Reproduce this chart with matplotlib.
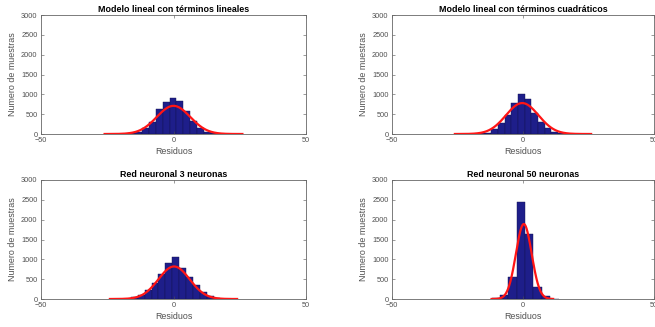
import numpy as np
import matplotlib
matplotlib.use("Agg")
import matplotlib.pyplot as plt

plt.rcParams['font.family'] = ['Liberation Sans', 'DejaVu Sans']

titles = ["Modelo lineal con términos lineales",
          "Modelo lineal con términos cuadráticos",
          "Red neuronal 3 neuronas",
          "Red neuronal 50 neuronas"]

# bin centers, bin widths and counts for each histogram
p1_centers = [-18.4, -15.8, -13.2, -10.6, -8.0, -5.4, -2.8, -0.2, 2.4, 5.0, 7.6, 10.2, 12.8, 15.4, 18.0]
p1_counts = [8, 20, 55, 140, 300, 620, 800, 900, 830, 580, 320, 150, 60, 20, 8]
p1_width = 2.6

p2_centers = [-18.45, -15.9, -13.35, -10.8, -8.25, -5.7, -3.15, -0.6, 1.95, 4.5, 7.05, 9.6, 12.15, 14.7, 17.25]
p2_counts = [5, 15, 35, 120, 270, 480, 780, 1005, 890, 520, 300, 140, 45, 15, 5]
p2_width = 2.55

p3_centers = [-17.4, -14.8, -12.2, -9.6, -7.0, -4.4, -1.8, 0.8, 3.4, 6.0, 8.6, 11.2, 13.8, 16.4]
p3_counts = [10, 40, 110, 230, 400, 640, 915, 1070, 790, 560, 350, 180, 70, 20]
p3_width = 2.6

p4_centers = [-10.4, -7.2, -4.0, -0.8, 2.4, 5.6, 8.8, 12.0]
p4_counts = [15, 110, 550, 2440, 1650, 310, 70, 10]
p4_width = 3.2

# fitted normal curves: peak height, mean, sigma, plotted range
fit_peak = [710, 780, 820, 1890]
fit_mu = [0.0, -0.3, 0.2, 0.3]
fit_sigma = [6.3, 6.2, 5.9, 3.0]
fit_range = [(-26, 26), (-26, 26), (-24, 24), (-12, 11.5)]

x_ticks = [-50, 0, 50]
y_ticks = [0, 500, 1000, 1500, 2000, 2500, 3000]

panels = [(p1_centers, p1_counts, p1_width),
          (p2_centers, p2_counts, p2_width),
          (p3_centers, p3_counts, p3_width),
          (p4_centers, p4_counts, p4_width)]

W, H = 655, 327
fig = plt.figure(figsize=(W / 100, H / 100), dpi=100)

positions = [(41, 15), (392, 15), (41, 180), (392, 180)]
widths = [265, 262, 265, 262]
ax_h = 119

for i, ((cx, cnt, w), (px, py)) in enumerate(zip(panels, positions)):
    ax = fig.add_axes([px / W, 1 - (py + ax_h) / H, widths[i] / W, ax_h / H])
    ax.bar(cx, cnt, width=w, color='#1e1e8a', edgecolor='#121250', linewidth=0.3)
    xs = np.linspace(fit_range[i][0], fit_range[i][1], 300)
    ys = fit_peak[i] * np.exp(-(xs - fit_mu[i]) ** 2 / (2 * fit_sigma[i] ** 2))
    ax.plot(xs, ys, color='#ff1515', linewidth=1.6)
    ax.set_xlim(-50, 50)
    ax.set_ylim(0, 3000)
    ax.set_xticks(x_ticks)
    ax.set_yticks(y_ticks)
    ax.tick_params(direction='in', length=2, width=0.4, labelsize=5.3,
                   top=True, right=True, colors='#505050', pad=2.5)
    for s in ax.spines.values():
        s.set_linewidth(0.6)
        s.set_color('#666666')
    ax.set_title(titles[i], fontsize=6.4, fontweight='bold', pad=2.5)
    ax.set_xlabel("Residuos", fontsize=6.4, color='#505050', labelpad=2)
    ax.set_ylabel("Numero de muestras", fontsize=6.4, color='#505050', labelpad=3)

fig.savefig("out.png", dpi=100)
